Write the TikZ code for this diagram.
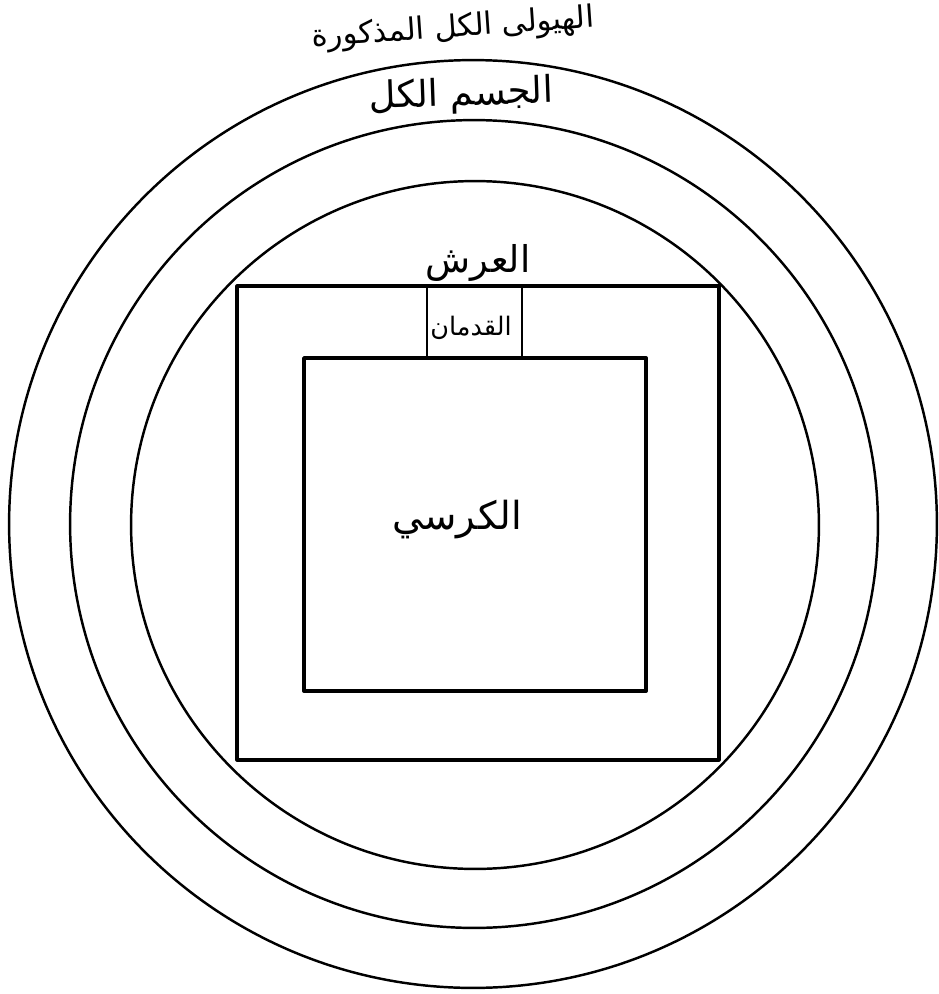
\documentclass[tikz,border=0pt]{standalone}
\usepackage{fontspec}
\newfontfamily\arabicfont[Script=Arabic]{DejaVu Sans}
\TeXXeTstate=1
\begin{document}
\begin{tikzpicture}[x=0.02cm,y=-0.02cm,line cap=round,line join=round,
    lbl/.style={font=\arabicfont\fontsize{21}{24}\selectfont,inner sep=1pt}]
  \useasboundingbox (0,0) rectangle (939,994);
  \draw[line width=1.4pt] (473,524) circle (9.28cm);
  \draw[line width=1.4pt] (474,524) circle (8.08cm);
  \draw[line width=1.4pt] (475,525) circle (6.88cm);
  \draw[line width=1.8pt] (237,286) rectangle (719,760);
  \draw[line width=1.6pt] (427,286) rectangle (522,358);
  \draw[line width=2.2pt,fill=white] (304,358) rectangle (646,691);
  \node[lbl,rotate=4,font=\arabicfont\fontsize{17.5}{20}\selectfont] (hayula) at (453,29) {\beginR الهيولى الكل المذكورة\endR};
  \node[lbl,rotate=2] (jism) at (461,96) {\beginR الجسم الكل\endR};
  \node[lbl] (arsh) at (478,263) {\beginR العرش\endR};
  \node[lbl,font=\arabicfont\fontsize{14.5}{16}\selectfont] (qadaman) at (471,328) {\beginR القدمان\endR};
  \node[lbl,font=\arabicfont\fontsize{22}{25}\selectfont] (kursi) at (457,520) {\beginR الكرسي\endR};
\end{tikzpicture}
\end{document}
